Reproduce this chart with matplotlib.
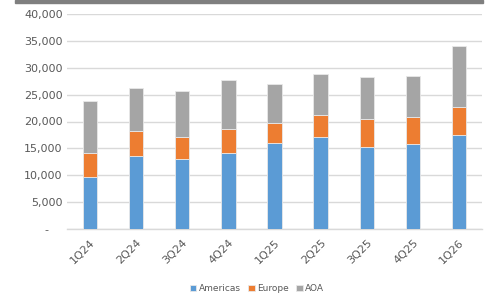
import matplotlib
matplotlib.use("Agg")
import matplotlib.pyplot as plt
from matplotlib.patches import Rectangle
from matplotlib.ticker import FuncFormatter

categories = ["1Q24", "2Q24", "3Q24", "4Q24", "1Q25", "2Q25", "3Q25", "4Q25", "1Q26"]
americas = [9600, 13500, 12950, 14200, 16050, 17050, 15200, 15750, 17450]
europe = [4600, 4650, 4100, 4350, 3750, 4200, 5200, 5150, 5300]
aoa = [9650, 8050, 8650, 9150, 7200, 7600, 7900, 7550, 11300]
series_names = ["Americas", "Europe", "AOA"]
colors = ["#5B9BD5", "#ED7D31", "#A5A5A5"]
yticks = [0, 5000, 10000, 15000, 20000, 25000, 30000, 35000, 40000]

plt.rcParams['font.family'] = ['DejaVu Sans']

fig = plt.figure(figsize=(4.88, 3.0), dpi=100)
ax = fig.add_axes([0.137, 0.2367, 0.851, 0.7166])

x = list(range(len(categories)))
w = 0.31
bottom = [0] * len(categories)
for name, vals, c in zip(series_names, [americas, europe, aoa], colors):
    ax.bar(x, vals, w, bottom=bottom, color=c, label=name, edgecolor="#E8E8E8", linewidth=0.6, zorder=3)
    bottom = [b + v for b, v in zip(bottom, vals)]

ax.set_xlim(-0.5, len(categories) - 0.5)
ax.set_ylim(0, 40000)
ax.set_yticks(yticks)
ax.yaxis.set_major_formatter(FuncFormatter(lambda v, p: "-    " if v == 0 else f"{int(v):,}"))
ax.grid(axis="y", color="#D9D9D9", linewidth=1.0, zorder=0)
for s in ["top", "right", "left"]:
    ax.spines[s].set_visible(False)
ax.spines["bottom"].set_color("#D9D9D9")
ax.spines["bottom"].set_linewidth(1.0)
ax.tick_params(axis="both", length=0, colors="#595959", labelsize=8)
ax.tick_params(axis="y", pad=3)
ax.set_xticks(x)
ax.set_xticklabels(categories, rotation=45, ha="right", rotation_mode="anchor")
ax.tick_params(axis="x", pad=6)

leg = fig.legend(loc="center", bbox_to_anchor=(0.527, 0.037), ncol=3, frameon=False,
                 fontsize=6.5, handlelength=0.7, handleheight=0.7, handletextpad=0.3,
                 columnspacing=0.8, labelcolor="#595959")

fig.patches.append(Rectangle((15 / 488, 297 / 300), 468 / 488, 3 / 300, transform=fig.transFigure,
                             color="#7F7F7F", zorder=10))

fig.savefig("out.png", dpi=100)
